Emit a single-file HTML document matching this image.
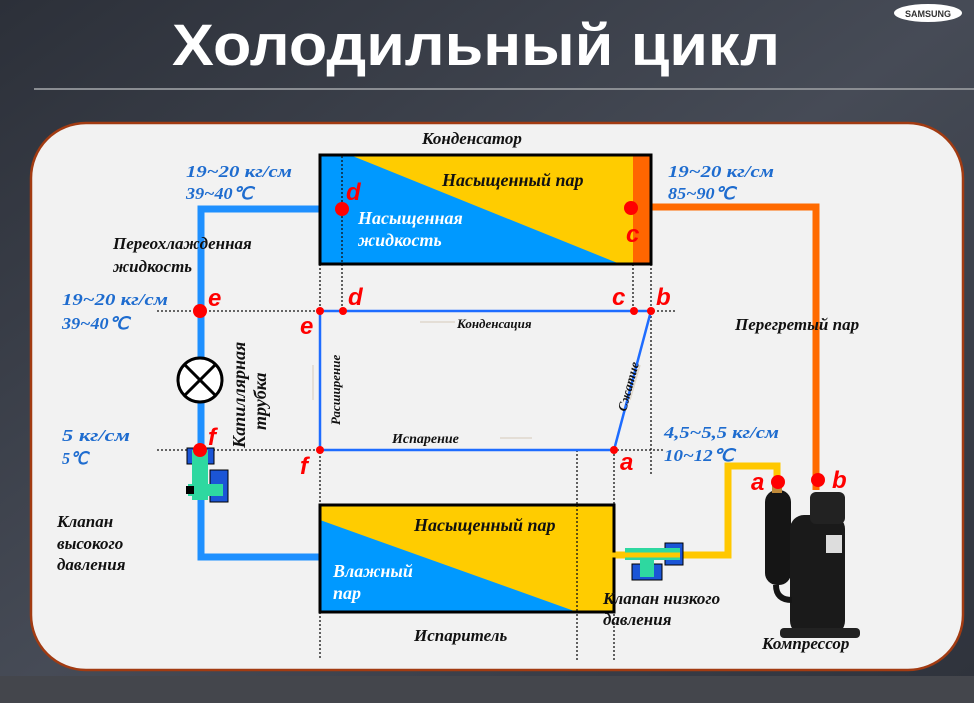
<!DOCTYPE html>
<html><head><meta charset="utf-8"><style>
html,body{margin:0;padding:0;width:974px;height:703px;overflow:hidden;background:#2f333d}
svg{display:block}
.t{font-family:"Liberation Serif",serif;font-style:italic;font-weight:bold}
</style></head><body>
<svg width="974" height="703" viewBox="0 0 974 703" xmlns="http://www.w3.org/2000/svg">
<defs>
<linearGradient id="bg" x1="0" y1="0" x2="1" y2="1">
<stop offset="0" stop-color="#2c3039"/><stop offset="0.5" stop-color="#464b56"/><stop offset="1" stop-color="#2e323b"/>
</linearGradient>
</defs>
<rect width="974" height="703" fill="url(#bg)"/>
<rect y="676" width="974" height="27" fill="#44464c"/>
<text x="172" y="65" textLength="608" lengthAdjust="spacingAndGlyphs" font-family="Liberation Sans,sans-serif" font-weight="bold" font-size="58" fill="#fff">Холодильный цикл</text>
<ellipse cx="928" cy="13" rx="34" ry="9" fill="#fff"/>
<text x="928" y="17" text-anchor="middle" font-family="Liberation Sans,sans-serif" font-weight="bold" font-size="9" fill="#333">SAMSUNG</text>
<rect x="34" y="88" width="940" height="2" fill="#8a8d92"/>
<rect x="31" y="123" width="932" height="547" rx="55" fill="#f2f2f2" stroke="#a23b12" stroke-width="2.5"/>

<g stroke="#111" stroke-width="1.3" stroke-dasharray="2,2" fill="none">
<line x1="157" y1="311" x2="676" y2="311"/>
<line x1="157" y1="450" x2="665" y2="450"/>
<line x1="320" y1="264" x2="320" y2="660"/>
<line x1="342" y1="156" x2="342" y2="311"/>
<line x1="633" y1="264" x2="633" y2="311"/>
<line x1="651" y1="264" x2="651" y2="474"/>
<line x1="577" y1="450" x2="577" y2="660"/>
<line x1="614" y1="450" x2="614" y2="660"/>
</g>

<polyline points="319,209 201,209 201,557 320,557" fill="none" stroke="#1e90ff" stroke-width="7"/>
<polyline points="650,207 816,207 816,490" fill="none" stroke="#ff6a00" stroke-width="7"/>
<polyline points="612,555 728,555 728,466 777,466 777,484" fill="none" stroke="#ffc800" stroke-width="7"/>

<rect x="320" y="155" width="331" height="109" fill="#0099ff"/>
<polygon points="350,155 633,155 633,264 620,264" fill="#ffcc00"/>
<rect x="633" y="155" width="18" height="109" fill="#ff6600"/>
<rect x="320" y="155" width="331" height="109" fill="none" stroke="#000" stroke-width="3"/>
<line x1="342" y1="156" x2="342" y2="264" stroke="#111" stroke-width="1.3" stroke-dasharray="2,2"/>

<rect x="320" y="505" width="294" height="107" fill="#0099ff"/>
<polygon points="320,505 614,505 614,612 577,612 320,520" fill="#ffcc00"/>
<rect x="320" y="505" width="294" height="107" fill="none" stroke="#000" stroke-width="3"/>
<line x1="577" y1="505" x2="577" y2="612" stroke="#111" stroke-width="1.3" stroke-dasharray="2,2"/>

<polygon points="320,311 651,311 614,450 320,450" fill="none" stroke="#1e6cff" stroke-width="2.5"/>
<g stroke="#e0d8cc" stroke-width="1.5" fill="none">
<line x1="420" y1="322" x2="455" y2="322"/><line x1="500" y1="438" x2="532" y2="438"/>
<line x1="313" y1="365" x2="313" y2="400"/><line x1="630" y1="400" x2="640" y2="365"/>
</g>

<circle cx="200" cy="380" r="22" fill="#fff" stroke="#000" stroke-width="3"/>
<line x1="185" y1="365" x2="215" y2="395" stroke="#000" stroke-width="3"/>
<line x1="215" y1="365" x2="185" y2="395" stroke="#000" stroke-width="3"/>

<rect x="187" y="448" width="27" height="16" fill="#1b55d6" stroke="#000"/>
<rect x="210" y="470" width="18" height="32" fill="#1b55d6" stroke="#000"/>
<rect x="192" y="450" width="16" height="50" fill="#2ed8a0"/>
<rect x="188" y="484" width="35" height="12" fill="#2ed8a0"/>
<rect x="186" y="486" width="8" height="8" fill="#000"/>
<rect x="665" y="543" width="18" height="22" fill="#1b55d6" stroke="#000"/>
<rect x="632" y="564" width="30" height="16" fill="#1b55d6" stroke="#000"/>
<rect x="625" y="548" width="55" height="12" fill="#2ed8a0"/>
<rect x="640" y="555" width="14" height="22" fill="#2ed8a0"/>
<line x1="612" y1="555" x2="680" y2="555" stroke="#ffc800" stroke-width="5"/>

<rect x="765" y="490" width="26" height="95" rx="12" fill="#151515"/>
<rect x="772" y="483" width="10" height="10" fill="#c08a3a"/>
<rect x="790" y="515" width="55" height="120" rx="14" fill="#1a1a1a"/>
<rect x="810" y="492" width="35" height="32" rx="6" fill="#222"/>
<rect x="826" y="535" width="16" height="18" fill="#ddd"/>
<rect x="780" y="628" width="80" height="10" rx="4" fill="#222"/>
<path d="M776 585 Q776 600 792 600" stroke="#151515" stroke-width="6" fill="none"/>

<g fill="#ff0000">
<circle cx="342" cy="209" r="7"/><circle cx="631" cy="208" r="7"/>
<circle cx="200" cy="311" r="7"/><circle cx="200" cy="450" r="7"/>
<circle cx="320" cy="311" r="4"/><circle cx="343" cy="311" r="4"/><circle cx="634" cy="311" r="4"/><circle cx="651" cy="311" r="4"/>
<circle cx="320" cy="450" r="4"/><circle cx="614" cy="450" r="4"/>
<circle cx="778" cy="482" r="7"/><circle cx="818" cy="480" r="7"/>
</g>
<g font-family="Liberation Sans,sans-serif" font-style="italic" font-weight="bold" font-size="24" fill="#ff0000">
<text x="346" y="200">d</text><text x="626" y="242">c</text>
<text x="208" y="306">e</text><text x="208" y="445">f</text>
<text x="348" y="305">d</text><text x="612" y="305">c</text><text x="656" y="305">b</text>
<text x="300" y="334">e</text><text x="300" y="474">f</text><text x="620" y="470">a</text>
<text x="751" y="490">a</text><text x="832" y="488">b</text>
</g>

<g class="t" fill="#111">
<text x="422" y="144" font-size="17">Конденсатор</text>
<text x="442" y="186" font-size="18">Насыщенный пар</text>
<text x="113" y="249" font-size="17">Переохлажденная</text>
<text x="113" y="272" font-size="17">жидкость</text>
<text x="457" y="328" font-size="13">Конденсация</text>
<text x="392" y="443" font-size="14">Испарение</text>
<text x="735" y="330" font-size="17">Перегретый пар</text>
<text x="57" y="527" font-size="17">Клапан</text>
<text x="57" y="549" font-size="17">высокого</text>
<text x="57" y="570" font-size="17">давления</text>
<text x="414" y="531" font-size="18">Насыщенный пар</text>
<text x="414" y="641" font-size="17">Испаритель</text>
<text x="603" y="604" font-size="17">Клапан низкого</text>
<text x="603" y="625" font-size="17">давления</text>
<text x="762" y="649" font-size="17">Компрессор</text>
<text transform="translate(245 448) rotate(-90)" font-size="18">Капиллярная</text>
<text transform="translate(266 430) rotate(-90)" font-size="18">трубка</text>
<text transform="translate(340 425) rotate(-90)" font-size="13">Расширение</text>
<text transform="translate(626 412) rotate(-75)" font-size="13">Сжатие</text>
</g>
<g class="t" fill="#fff">
<text x="358" y="224" font-size="18">Насыщенная</text>
<text x="358" y="246" font-size="18">жидкость</text>
<text x="333" y="577" font-size="18">Влажный</text>
<text x="333" y="599" font-size="18">пар</text>
</g>
<g class="t" fill="#1e6ccf" font-size="17">
<text x="186" y="177" textLength="106" lengthAdjust="spacingAndGlyphs">19~20 кг/см</text><text x="186" y="199" textLength="67" lengthAdjust="spacingAndGlyphs">39~40℃</text>
<text x="668" y="177" textLength="106" lengthAdjust="spacingAndGlyphs">19~20 кг/см</text><text x="668" y="199" textLength="67" lengthAdjust="spacingAndGlyphs">85~90℃</text>
<text x="62" y="305" textLength="106" lengthAdjust="spacingAndGlyphs">19~20 кг/см</text><text x="62" y="329" textLength="67" lengthAdjust="spacingAndGlyphs">39~40℃</text>
<text x="62" y="441" textLength="68" lengthAdjust="spacingAndGlyphs">5 кг/см</text><text x="62" y="464" textLength="26" lengthAdjust="spacingAndGlyphs">5℃</text>
<text x="664" y="438" textLength="115" lengthAdjust="spacingAndGlyphs">4,5~5,5 кг/см</text><text x="664" y="461" textLength="70" lengthAdjust="spacingAndGlyphs">10~12℃</text>
</g>
</svg>
</body></html>
